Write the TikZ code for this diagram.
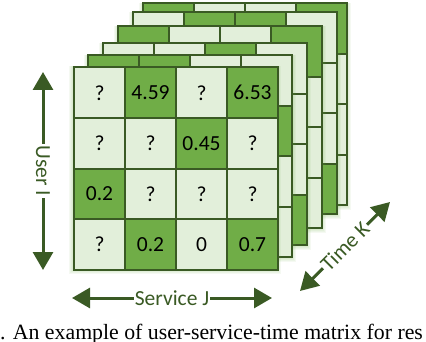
\documentclass[tikz,border=0pt]{standalone}
\usepackage{fontspec}
\setmainfont{Liberation Serif}
\newfontfamily\calfont{Carlito}
\usetikzlibrary{arrows.meta}
\definecolor{dk}{RGB}{112,173,71}
\definecolor{lt}{RGB}{226,239,218}
\definecolor{bd}{RGB}{58,90,36}
\tikzset{
  cellbox/.style={draw=bd,line width=2pt,minimum width=51pt,minimum height=50.6pt,inner sep=0pt,anchor=north west,font=\calfont\fontsize{21.5}{24}\selectfont},
  cellL/.style={draw=bd,line width=2pt,fill=lt},
  cellD/.style={draw=bd,line width=2pt,fill=dk},
  glow/.style={fill=dk,opacity=0.07},
  axisarrow/.style={draw=bd,line width=3pt,{Triangle[length=18pt,width=20pt]}-{Triangle[length=18pt,width=20pt]}},
  axislabel/.style={fill=white,text=bd,inner sep=1.2pt,font=\calfont\fontsize{21.5}{24}\selectfont},
}
\newcommand\layerglow[2]{%
  \foreach \g in {1,...,4}{%
    \fill[glow] (#1-\g,#2) rectangle (#1+204+\g,#2+202.4+\g+1);}
}
\newcommand\gridlayer[3]{%
  \layerglow{#1}{#2}
  \foreach \r in {0,...,3}{\foreach \c in {0,...,3}{%
    \draw[cellL] (#1+\c*51,#2+\r*50.6) rectangle ++(51,50.6);}}
  \foreach \r/\c in {#3}{%
    \draw[cellD] (#1+\c*51,#2+\r*50.6) rectangle ++(51,50.6);}
}
\begin{document}
\begin{tikzpicture}[x=1pt,y=-1pt]
\useasboundingbox (0,0) rectangle (426,342);
\clip (0,0) rectangle (426,342);
% back layers (from farthest)
\gridlayer{143}{3}{0/0,0/3}
\gridlayer{133}{12}{0/1,0/2,3/3}
\gridlayer{118}{26}{0/0,0/3}
\gridlayer{103}{43}{0/2,3/3}
\gridlayer{88}{55}{0/0,0/1,1/3}
% front layer
\layerglow{73}{66.5}
\node[cellbox,fill=lt] (f11) at (73,66.5) {?};
\node[cellbox,fill=dk] (f12) at (124,66.5) {4.59};
\node[cellbox,fill=lt] (f13) at (175,66.5) {?};
\node[cellbox,fill=dk] (f14) at (226,66.5) {6.53};
\node[cellbox,fill=lt] (f21) at (73,117.1) {?};
\node[cellbox,fill=lt] (f22) at (124,117.1) {?};
\node[cellbox,fill=dk] (f23) at (175,117.1) {0.45};
\node[cellbox,fill=lt] (f24) at (226,117.1) {?};
\node[cellbox,fill=dk] (f31) at (73,167.7) {0.2};
\node[cellbox,fill=lt] (f32) at (124,167.7) {?};
\node[cellbox,fill=lt] (f33) at (175,167.7) {?};
\node[cellbox,fill=lt] (f34) at (226,167.7) {?};
\node[cellbox,fill=lt] (f41) at (73,218.3) {?};
\node[cellbox,fill=dk] (f42) at (124,218.3) {0.2};
\node[cellbox,fill=lt] (f43) at (175,218.3) {0};
\node[cellbox,fill=dk] (f44) at (226,218.3) {0.7};
% axes
\coordinate (uA) at (43,72);
\coordinate (uB) at (43,270);
\coordinate (sA) at (72,298);
\coordinate (sB) at (272,298);
\coordinate (tA) at (300,291);
\coordinate (tB) at (390,202);
\draw[axisarrow] (uA) -- node[axislabel,rotate=-90] (ulab) {User I} (uB);
\draw[axisarrow] (sA) -- node[axislabel] (slab) {Service J} (sB);
\draw[axisarrow] (tA) -- node[axislabel,rotate=45] (tlab) {Time K} (tB);
% caption
\node[anchor=base west,inner sep=0pt,font=\fontsize{21.8}{24}\selectfont] (cap) at (0,339.5) {. An example of user-service-time matrix for res};
\end{tikzpicture}
\end{document}
